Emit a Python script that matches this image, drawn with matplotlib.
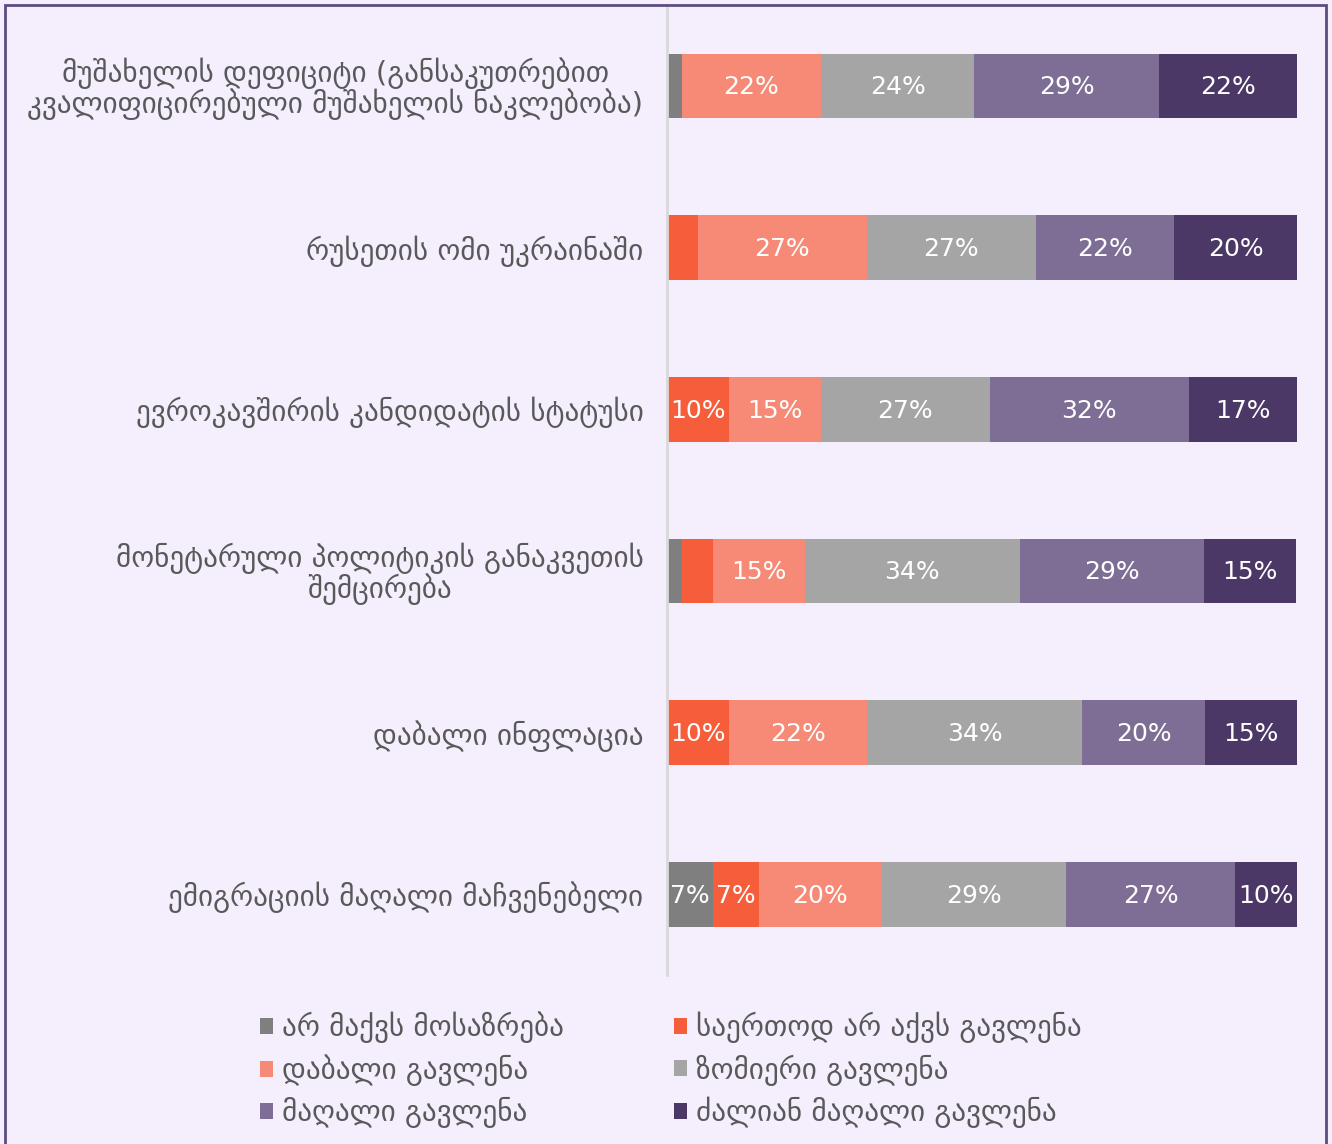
import matplotlib.pyplot as plt
import matplotlib.patches as mpatches
import numpy as np

plt.rcParams['font.family'] = ['DejaVu Sans']

categories = [
    "მუშახელის დეფიციტი (განსაკუთრებით\nკვალიფიცირებული მუშახელის ნაკლებობა)",
    "რუსეთის ომი უკრაინაში",
    "ევროკავშირის კანდიდატის სტატუსი",
    "მონეტარული პოლიტიკის განაკვეთის\nშემცირება",
    "დაბალი ინფლაცია",
    "ემიგრაციის მაღალი მაჩვენებელი",
]

series = [
    "არ მაქვს მოსაზრება",
    "საერთოდ არ აქვს გავლენა",
    "დაბალი გავლენა",
    "ზომიერი გავლენა",
    "მაღალი გავლენა",
    "ძალიან მაღალი გავლენა",
]

# percent per category, one list per series
no_opinion = [2.4, 0.0, 0.0, 2.4, 0.0, 7.3]
no_impact = [0.0, 4.9, 9.8, 4.9, 9.8, 7.3]
low = [22.0, 26.8, 14.6, 14.6, 22.0, 19.5]
moderate = [24.4, 26.8, 26.8, 34.1, 34.1, 29.3]
high = [29.3, 22.0, 31.7, 29.3, 19.5, 26.8]
very_high = [22.0, 19.5, 17.1, 14.6, 14.6, 9.8]

colors = ["#7F7F80", "#F65D3B", "#F68A77", "#A5A5A5", "#7E6E95", "#4B3866"]
bg = "#F5EEFD"

values = [no_opinion, no_impact, low, moderate, high, very_high]

fig = plt.figure(figsize=(13.32, 11.44), dpi=100, facecolor=bg)
ax = fig.add_axes([667/1332, 1 - 975/1144, 630/1332, 970/1144])
ax.set_facecolor(bg)

y = np.arange(len(categories))
left = np.zeros(len(categories))
handles = []
for name, vals, col in zip(series, values, colors):
    vals = np.array(vals)
    bars = ax.barh(y, vals, left=left, height=0.4, color=col, label=name)
    handles.append(bars)
    for yi, l, v in zip(y, left, vals):
        if v >= 6:
            ax.text(l + v / 2, yi + 0.01, f"{v:.0f}%", ha='center', va='center',
                    color='white', fontsize=18)
    left += vals

ax.set_xlim(0, 100)
ax.set_ylim(len(categories) - 0.5, -0.5)
ax.set_yticks(y)
ax.set_yticklabels(categories, fontsize=21, color='#595959',
                   multialignment='center', linespacing=0.95)
ax.tick_params(axis='y', length=0, pad=17)
ax.set_xticks([])
for s in ['top', 'right', 'bottom']:
    ax.spines[s].set_visible(False)
ax.spines['left'].set_color('#D9D9D9')
ax.spines['left'].set_linewidth(2)

# legend laid out row-wise (2 columns)
order = [0, 2, 4, 1, 3, 5]
leg = fig.legend([handles[i] for i in order], [series[i] for i in order],
                 ncol=2, loc='upper left', bbox_to_anchor=(248/1332, 1 - 1000/1144),
                 frameon=False, fontsize=21, labelcolor='#595959',
                 handlelength=0.45, handleheight=0.45, handletextpad=0.3,
                 columnspacing=3.8, labelspacing=0.38, borderaxespad=0)

fig.patches.append(mpatches.Rectangle((5/1332, -0.02), 1321/1332, 1.02 - 5/1144,
                                      transform=fig.transFigure, fill=False,
                                      edgecolor='#5E4B82', linewidth=2))

fig.savefig('out.png', dpi=100, facecolor=bg)
